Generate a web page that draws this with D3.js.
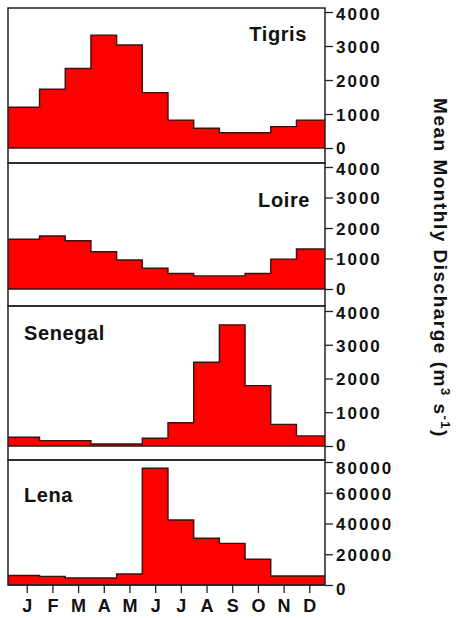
<!DOCTYPE html>
<html>
<head>
<meta charset="utf-8">
<script src="https://cdn.jsdelivr.net/npm/d3@7"></script>
<style>
  html, body { margin: 0; padding: 0; background: #fff; }
  svg { display: block; }
</style>
</head>
<body>
<svg id="chart" width="462" height="618"></svg>
<script>
// ---- data ----
const monthNames  = ["Jan","Feb","Mar","Apr","May","Jun","Jul","Aug","Sep","Oct","Nov","Dec"];
const monthLabels = ["J","F","M","A","M","J","J","A","S","O","N","D"];
const riverNames  = ["Tigris","Loire","Senegal","Lena"];
const tigris  = [1200, 1730, 2340, 3320, 3030, 1630, 820, 580, 450, 450, 630, 820];
const loire   = [1630, 1740, 1580, 1220, 950, 680, 510, 430, 430, 510, 980, 1310];
const senegal = [260, 160, 160, 60, 60, 230, 690, 2480, 3590, 1790, 640, 300];
const lena    = [6200, 5600, 4600, 4600, 7200, 75900, 42300, 30400, 27100, 16700, 5900, 5900];
const ticksSmall = [0, 1000, 2000, 3000, 4000];
const ticksLena  = [0, 20000, 40000, 60000, 80000];

// ---- layout ----
const left = 8, right = 325;
const panels = [
  {name: riverNames[0], values: tigris,  ticks: ticksSmall, top: 8,   bottom: 163, y0: 148, yMax: 12,  label: "right", lx: 307, ly: 41,  topShift: 2, zeroShift: 0},
  {name: riverNames[1], values: loire,   ticks: ticksSmall, top: 163, bottom: 306, y0: 289, yMax: 167, label: "right", lx: 310, ly: 207, topShift: 2, zeroShift: 0},
  {name: riverNames[2], values: senegal, ticks: ticksSmall, top: 306, bottom: 460, y0: 446, yMax: 311, label: "left",  lx: 24,  ly: 340, topShift: 2, zeroShift: -1},
  {name: riverNames[3], values: lena,    ticks: ticksLena,  top: 460, bottom: 585, y0: 585, yMax: 462, label: "left",  lx: 24,  ly: 502, topShift: 6, zeroShift: 4}
];

const svg = d3.select("#chart");
const x = d3.scalePoint().domain(monthNames).range([26.7, 309.3]);

const mainFont = "'Liberation Sans',Arial,sans-serif";

panels.forEach(p => {
  const y = d3.scaleLinear().domain([0, d3.max(p.ticks)]).range([p.y0, p.yMax]);
  const g = svg.append("g");
  const pts = [{x: left, v: p.values[0]}]
    .concat(p.values.map((v, i) => ({x: x(monthNames[i]), v})))
    .concat([{x: right, v: p.values[p.values.length - 1]}]);

  const area = d3.area().curve(d3.curveStep)
    .x(d => d.x).y0(y(0)).y1(d => y(d.v));
  const line = d3.line().curve(d3.curveStep)
    .x(d => d.x).y(d => y(d.v));

  g.append("path").attr("d", area(pts)).attr("fill", "#ff0000");
  g.append("path").attr("d", line(pts)).attr("fill", "none")
    .attr("stroke", "#3a1010").attr("stroke-width", 1.4);
  g.append("line").attr("x1", left).attr("x2", right)
    .attr("y1", y(0)).attr("y2", y(0))
    .attr("stroke", "#3a1010").attr("stroke-width", 1.4);

  // panel frame
  g.append("rect").attr("x", left).attr("y", p.top)
    .attr("width", right - left).attr("height", p.bottom - p.top)
    .attr("fill", "none").attr("stroke", "#222").attr("stroke-width", 1.5);

  // right axis
  const maxT = d3.max(p.ticks);
  const ax = g.append("g").attr("transform", `translate(${right},0)`)
    .call(d3.axisRight(y).tickValues(p.ticks).tickSize(8).tickSizeOuter(0)
      .tickPadding(3).tickFormat(d3.format("d")));
  ax.select(".domain").remove();
  ax.selectAll(".tick line").attr("stroke", "#222").attr("stroke-width", 1.3);
  ax.selectAll(".tick text")
    .attr("font-family", mainFont).attr("font-weight", "bold")
    .attr("font-size", 17).attr("letter-spacing", "2px").attr("fill", "#111")
    .attr("y", d => d === maxT ? p.topShift : (d === 0 ? p.zeroShift : 1));

  // river name
  g.append("text").attr("x", p.lx).attr("y", p.ly)
    .attr("text-anchor", p.label === "right" ? "end" : "start")
    .attr("font-family", mainFont).attr("font-weight", "bold")
    .attr("font-size", 20).attr("letter-spacing", "0.6px").attr("fill", "#111")
    .text(p.name);
});

// bottom month axis
const xa = svg.append("g").attr("transform", `translate(0,585)`)
  .call(d3.axisBottom(x).tickSize(8).tickSizeOuter(0).tickPadding(6)
    .tickFormat((d, i) => monthLabels[i]));
xa.select(".domain").remove();
xa.selectAll(".tick line").attr("stroke", "#222").attr("stroke-width", 1.3);
xa.selectAll(".tick text")
  .attr("font-family", mainFont).attr("font-weight", "bold")
  .attr("font-size", 18).attr("fill", "#111");

// y-axis title
const t = svg.append("text")
  .attr("transform", "translate(434,268) rotate(90)")
  .attr("text-anchor", "middle")
  .attr("font-family", mainFont).attr("font-weight", "bold")
  .attr("font-size", 19).attr("letter-spacing", "1.5px").attr("fill", "#111");
t.append("tspan").text("Mean Monthly Discharge (m");
t.append("tspan").attr("dy", -7).attr("font-size", 13).text("3");
t.append("tspan").attr("dy", 7).text(" s");
t.append("tspan").attr("dy", -7).attr("font-size", 13).text("-1");
t.append("tspan").attr("dy", 7).text(")");
</script>
</body>
</html>
